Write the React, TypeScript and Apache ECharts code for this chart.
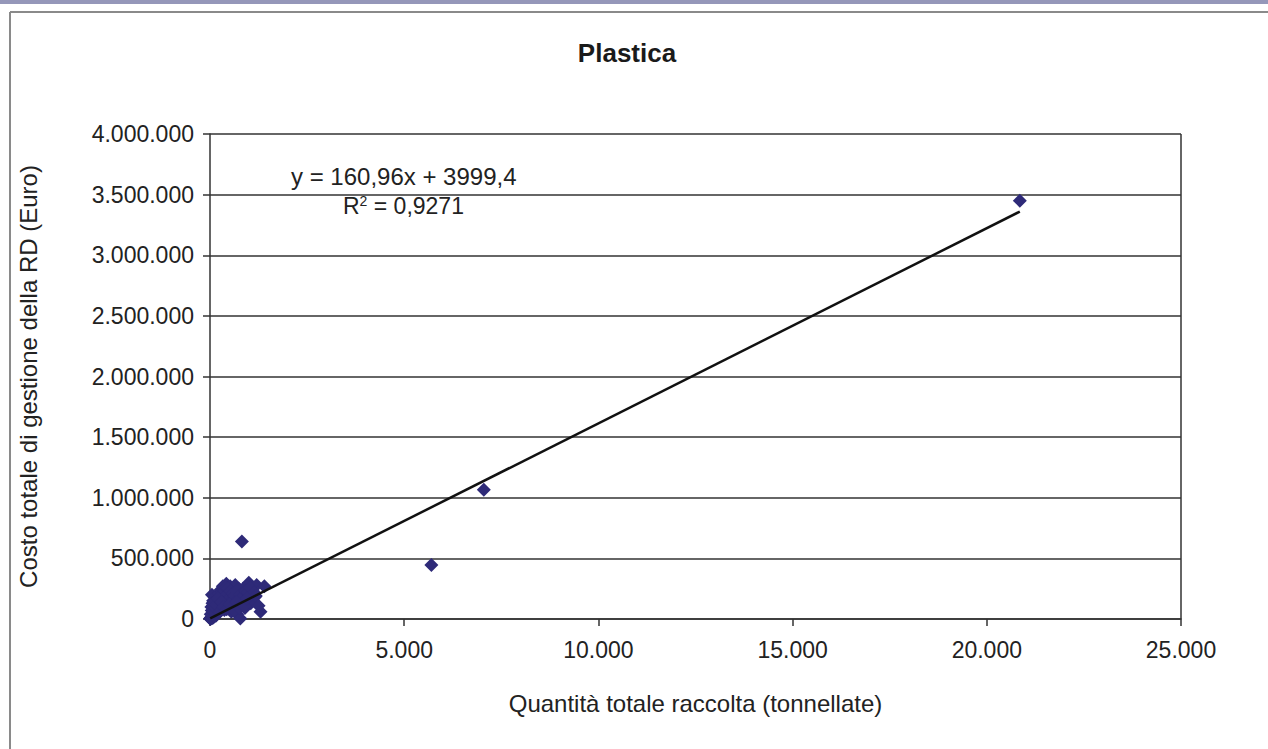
import React, { useEffect, useRef } from "react";
import * as echarts from "echarts";

const TITLE = "Plastica";
const X_NAME = "Quantità totale raccolta (tonnellate)";
const Y_NAME = "Costo totale di gestione della RD (Euro)";

// Quantità totale raccolta (tonnellate)
const quantita: number[] = [
  5, 10, 15, 20, 25, 30, 40, 50, 50, 60, 70, 80, 80, 90, 100, 110, 120, 120, 130, 140,
  150, 160, 170, 180, 200, 210, 220, 240, 250, 260, 280, 300, 320, 340, 350, 370, 400,
  420, 450, 480, 500, 520, 550, 580, 600, 620, 650, 680, 700, 720, 750, 780, 800, 850,
  900, 950, 1000, 1050, 1100, 1150, 1200, 1300, 1400,
  35, 65, 95, 135, 190, 230, 270, 310, 330, 360, 380, 410, 440, 460, 490, 530, 560, 590,
  640, 670, 710, 740, 770, 830, 870, 920, 980, 1020, 1080, 1130, 1180, 1250, 20, 45, 75,
  105, 165, 205, 245, 290, 355, 430, 510, 610, 690, 760, 880, 960,
  820, 5700, 7050, 20850,
];
// Costo totale di gestione della RD (Euro)
const costo: number[] = [
  2000, 5000, 8000, 3000, 12000, 6000, 10000, 15000, 200000, 20000, 9000, 25000, 150000,
  30000, 18000, 40000, 22000, 180000, 50000, 35000, 60000, 28000, 70000, 45000, 80000,
  120000, 55000, 100000, 150000, 65000, 200000, 90000, 180000, 130000, 250000, 75000,
  160000, 290000, 110000, 220000, 140000, 270000, 60000, 190000, 240000, 100000, 280000,
  170000, 40000, 210000, 120000, 5000, 150000, 250000, 90000, 200000, 300000, 130000,
  240000, 180000, 280000, 60000, 270000,
  100000, 130000, 60000, 90000, 160000, 210000, 240000, 220000, 270000, 190000, 230000,
  260000, 200000, 250000, 170000, 230000, 150000, 210000, 190000, 230000, 160000, 250000,
  200000, 180000, 140000, 230000, 220000, 260000, 160000, 220000, 190000, 110000, 40000,
  70000, 110000, 140000, 120000, 170000, 60000, 140000, 100000, 80000, 120000, 70000,
  140000, 90000, 110000, 170000,
  640000, 445000, 1065000, 3450000,
];

const TREND_SLOPE = 160.96;
const TREND_INTERCEPT = 3999.4;
const EQ_TEXT = "y = 160,96x + 3999,4";
const R2_VALUE = "0,9271";

const Y_MAX = 4000000;
const Y_STEP = 500000;
const X_MAX = 25000;
const X_STEP = 5000;

const fmt = (v: number) => String(v).replace(/\B(?=(\d{3})+(?!\d))/g, ".");

export default function App() {
  const ref = useRef<HTMLDivElement>(null);
  useEffect(() => {
    if (!ref.current) return;
    const chart = echarts.init(ref.current, null, { renderer: "svg" });
    const points = quantita.map((q, i) => [q, costo[i]]);
    const xMin = Math.min(...quantita);
    const xMaxData = Math.max(...quantita);
    const trend = [
      [xMin, TREND_SLOPE * xMin + TREND_INTERCEPT],
      [xMaxData, TREND_SLOPE * xMaxData + TREND_INTERCEPT],
    ];
    const font = "'Liberation Sans', Arial, sans-serif";
    chart.setOption({
      animation: false,
      backgroundColor: "#ffffff",
      textStyle: { fontFamily: font },
      grid: { left: 210, top: 134, width: 971, height: 485, show: false },
      xAxis: {
        type: "value",
        min: 0,
        max: X_MAX,
        interval: X_STEP,
        name: X_NAME,
        nameLocation: "middle",
        nameGap: 72,
        nameTextStyle: { fontFamily: font, fontSize: 24, color: "#222" },
        axisLine: { show: true, onZero: false, lineStyle: { color: "#333", width: 1.5 } },
        axisTick: { show: true, inside: false, length: 7, lineStyle: { color: "#333", width: 1.5 } },
        axisLabel: { formatter: fmt, fontSize: 23, color: "#222", margin: 19 },
        splitLine: { show: false },
      },
      yAxis: {
        type: "value",
        min: 0,
        max: Y_MAX,
        interval: Y_STEP,
        name: Y_NAME,
        nameLocation: "middle",
        nameGap: 170,
        nameRotate: 90,
        nameTextStyle: { fontFamily: font, fontSize: 24, color: "#222" },
        axisLine: { show: true, lineStyle: { color: "#333", width: 1.5 } },
        axisTick: { show: true, inside: false, length: 7, lineStyle: { color: "#333", width: 1.5 } },
        axisLabel: { formatter: fmt, fontSize: 23, color: "#222", margin: 16 },
        splitLine: { show: true, lineStyle: { color: "#333", width: 1.5 } },
      },
      series: [
        {
          type: "scatter",
          data: points,
          symbol: "diamond",
          symbolSize: 14,
          itemStyle: { color: "#2e2a78", opacity: 1 },
          z: 2,
        },
        {
          type: "line",
          data: trend,
          symbol: "none",
          lineStyle: { color: "#111", width: 2.5 },
          z: 3,
        },
        {
          type: "line",
          data: [
            [X_MAX, 0],
            [X_MAX, Y_MAX],
          ],
          symbol: "none",
          silent: true,
          lineStyle: { color: "#333", width: 1.5 },
          z: 1,
        },
      ],
      graphic: [
        { type: "rect", shape: { x: 0, y: 0, width: 1268, height: 4 }, style: { fill: "#9597b9" } },
        { type: "line", shape: { x1: 10, y1: 12, x2: 1268, y2: 12 }, style: { stroke: "#8a8a8a", lineWidth: 2 } },
        { type: "line", shape: { x1: 10, y1: 12, x2: 10, y2: 749 }, style: { stroke: "#8a8a8a", lineWidth: 2 } },
        {
          type: "text",
          x: 627,
          y: 53,
          style: {
            text: TITLE,
            fontFamily: font,
            fontSize: 26,
            fontWeight: "bold",
            fill: "#1a1a1a",
            align: "center",
            verticalAlign: "middle",
          },
        },
        {
          type: "text",
          left: 291,
          top: 164,
          style: { text: EQ_TEXT, fontFamily: font, fontSize: 24, fill: "#222" },
        },
        {
          type: "text",
          left: 343,
          top: 194,
          style: {
            text: "R{sup|2} = " + R2_VALUE,
            fontFamily: font,
            fontSize: 23,
            fill: "#222",
            rich: {
              sup: { fontSize: 14, verticalAlign: "top", padding: [0, 0, 10, 0], fontFamily: font, fill: "#222" },
            },
          },
        },
      ],
    });
    return () => chart.dispose();
  }, []);
  return (
    <div
      ref={ref}
      style={{ position: "absolute", left: 0, top: 0, width: 1268, height: 749 }}
    />
  );
}
